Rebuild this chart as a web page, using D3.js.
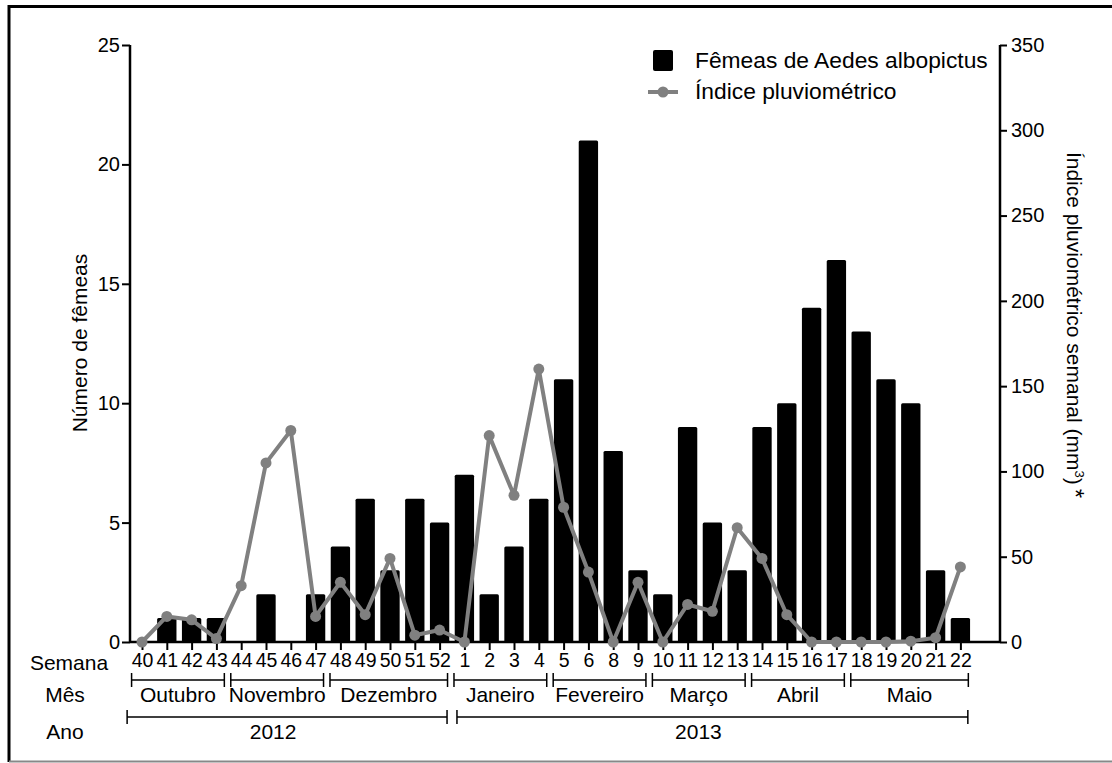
<!DOCTYPE html>
<html>
<head>
<meta charset="utf-8">
<script src="https://cdn.jsdelivr.net/npm/d3@7"></script>
<style>
  body { margin: 0; background: #fff; }
  text { font-family: "Liberation Sans", Arial, sans-serif; fill: #000; }
</style>
</head>
<body>
<div id="chart"></div>
<script>
// weeks (week 7 of 2013 is missing in the original)
var weeks = ["40","41","42","43","44","45","46","47","48","49","50","51","52",
             "1","2","3","4","5","6","8","9","10","11","12","13","14","15","16","17","18","19","20","21","22"];
var females = [0,1,1,1,0,2,0,2,4,6,3,6,5,7,2,4,6,11,21,8,3,2,9,5,3,9,10,14,16,13,11,10,3,1];
var rainfall = [0,15,13,2,33,105,124,15,35,16,49,4,7,0,121,86,160,79,41,0,35,0,22,18,67,49,16,0,0,0,0,0.5,2.5,44];

var months = [
    { name: "Outubro", from: "40", to: "43" },
    { name: "Novembro", from: "44", to: "47" },
    { name: "Dezembro", from: "48", to: "52" },
    { name: "Janeiro", from: "1", to: "4" },
    { name: "Fevereiro", from: "5", to: "9" },
    { name: "Março", from: "10", to: "13" },
    { name: "Abril", from: "14", to: "17" },
    { name: "Maio", from: "18", to: "22" }
];
var years = [
    { name: "2012", from: "40", to: "52" },
    { name: "2013", from: "1", to: "22" }
];

var W = 1112, H = 763;
var mLeft = 130, mRight = 1000, mTop = 45, mBottom = 642;

var svg = d3.select("#chart").append("svg")
    .attr("width", W)
    .attr("height", H);

// outer frame
svg.append("line").attr("x1", 9).attr("x2", W).attr("y1", 6.5).attr("y2", 6.5)
    .attr("stroke", "#000").attr("stroke-width", 3);
svg.append("line").attr("x1", 9).attr("x2", 9).attr("y1", 5).attr("y2", 762)
    .attr("stroke", "#000").attr("stroke-width", 3);
svg.append("line").attr("x1", 9).attr("x2", W).attr("y1", 761.5).attr("y2", 761.5)
    .attr("stroke", "#888").attr("stroke-width", 2);

var x = d3.scalePoint().domain(weeks).range([142, 960.4]);
var step = x.step();
var yL = d3.scaleLinear().domain([0, 25]).range([mBottom, mTop]);
var yR = d3.scaleLinear().domain([0, 350]).range([mBottom, mTop]);

// bars
var barW = step * 0.78;
svg.append("g").selectAll("rect")
    .data(weeks)
    .join("rect")
    .attr("x", function (d) { return x(d) - barW / 2; })
    .attr("y", function (d, i) { return yL(females[i]); })
    .attr("width", barW)
    .attr("height", function (d, i) { return mBottom - yL(females[i]); })
    .attr("rx", 1.5)
    .attr("fill", "#000");

// left axis
var gL = svg.append("g")
    .attr("transform", "translate(" + mLeft + ",0)")
    .call(d3.axisLeft(yL).tickValues([0, 5, 10, 15, 20, 25]).tickSize(8).tickPadding(2));
gL.select(".domain").attr("stroke-width", 2.5).attr("d", "M0," + mTop + "V" + mBottom);
gL.selectAll(".tick line").attr("stroke-width", 2);
gL.selectAll(".tick text").style("font-size", "20px").attr("font-family", null);

// right axis
var gR = svg.append("g")
    .attr("transform", "translate(" + mRight + ",0)")
    .call(d3.axisRight(yR).tickValues(d3.range(0, 351, 50)).tickSize(7).tickPadding(4));
gR.select(".domain").attr("stroke-width", 2.5).attr("d", "M0," + mTop + "V" + mBottom);
gR.selectAll(".tick line").attr("stroke-width", 2);
gR.selectAll(".tick text").style("font-size", "20px").attr("font-family", null);

// bottom axis
var gB = svg.append("g")
    .attr("transform", "translate(0," + mBottom + ")")
    .call(d3.axisBottom(x).tickSize(8).tickPadding(3));
gB.select(".domain").attr("stroke-width", 2.5).attr("d", "M" + mLeft + ",0H" + mRight);
gB.selectAll(".tick line").attr("stroke-width", 2);
gB.selectAll(".tick text").style("font-size", "19.5px").attr("font-family", null);

// line
var lineGen = d3.line()
    .x(function (d, i) { return x(weeks[i]); })
    .y(function (d) { return yR(d); });
svg.append("path")
    .datum(rainfall)
    .attr("d", lineGen)
    .attr("fill", "none")
    .attr("stroke", "#808080")
    .attr("stroke-width", 4)
    .attr("stroke-linejoin", "round");
svg.append("g").selectAll("circle")
    .data(rainfall)
    .join("circle")
    .attr("cx", function (d, i) { return x(weeks[i]); })
    .attr("cy", function (d) { return yR(d); })
    .attr("r", 5.5)
    .attr("fill", "#808080");

// row labels
svg.append("text").attr("x", 69).attr("y", 670).attr("text-anchor", "middle")
    .style("font-size", "21px").text("Semana");
svg.append("text").attr("x", 65).attr("y", 702).attr("text-anchor", "middle")
    .style("font-size", "21px").text("Mês");
svg.append("text").attr("x", 65).attr("y", 739).attr("text-anchor", "middle")
    .style("font-size", "21px").text("Ano");

// brackets
function bracket(g, x1, x2, yy) {
    g.append("path")
        .attr("d", "M" + x1 + "," + (yy - 7) + "V" + (yy + 7) + "M" + x1 + "," + yy + "H" + x2 +
            "M" + x2 + "," + (yy - 7) + "V" + (yy + 7))
        .attr("fill", "none")
        .attr("stroke", "#000")
        .attr("stroke-width", 1.5);
}

var gM = svg.append("g");
months.forEach(function (m) {
    var x1 = x(m.from) - step * 0.42, x2 = x(m.to) + step * 0.32;
    bracket(gM, x1, x2, 680);
    gM.append("text").attr("x", (x1 + x2) / 2).attr("y", 702)
        .attr("text-anchor", "middle").style("font-size", "21px").text(m.name);
});

var gY = svg.append("g");
years.forEach(function (yv, i) {
    var x1 = x(yv.from) - step * (i === 0 ? 0.6 : 0.3), x2 = x(yv.to) + step * 0.3;
    bracket(gY, x1, x2, 717);
    gY.append("text").attr("x", (x1 + x2) / 2 - 14).attr("y", 739)
        .attr("text-anchor", "middle").style("font-size", "21px").text(yv.name);
});

// axis titles
svg.append("text")
    .attr("transform", "translate(87,343) rotate(-90)")
    .attr("text-anchor", "middle")
    .style("font-size", "21px")
    .text("Número de fêmeas");

var rt = svg.append("text")
    .attr("transform", "translate(1067,325) rotate(90)")
    .attr("text-anchor", "middle")
    .style("font-size", "21px");
rt.append("tspan").text("Índice pluviométrico semanal (mm");
rt.append("tspan").attr("dy", -8).style("font-size", "13px").text("3");
rt.append("tspan").attr("dy", 8).text(")");
rt.append("tspan").attr("dx", 4).style("font-size", "24px").text("*");

// legend
var lg = svg.append("g");
lg.append("rect").attr("x", 653).attr("y", 50).attr("width", 20).attr("height", 21)
    .attr("rx", 2).attr("fill", "#000");
lg.append("text").attr("x", 695).attr("y", 68).style("font-size", "22.8px")
    .text("Fêmeas de Aedes albopictus");
lg.append("line").attr("x1", 648).attr("x2", 678).attr("y1", 92).attr("y2", 92)
    .attr("stroke", "#808080").attr("stroke-width", 4);
lg.append("circle").attr("cx", 663).attr("cy", 92).attr("r", 5.5).attr("fill", "#808080");
lg.append("text").attr("x", 695).attr("y", 99).style("font-size", "22.8px")
    .text("Índice pluviométrico");
</script>
</body>
</html>
